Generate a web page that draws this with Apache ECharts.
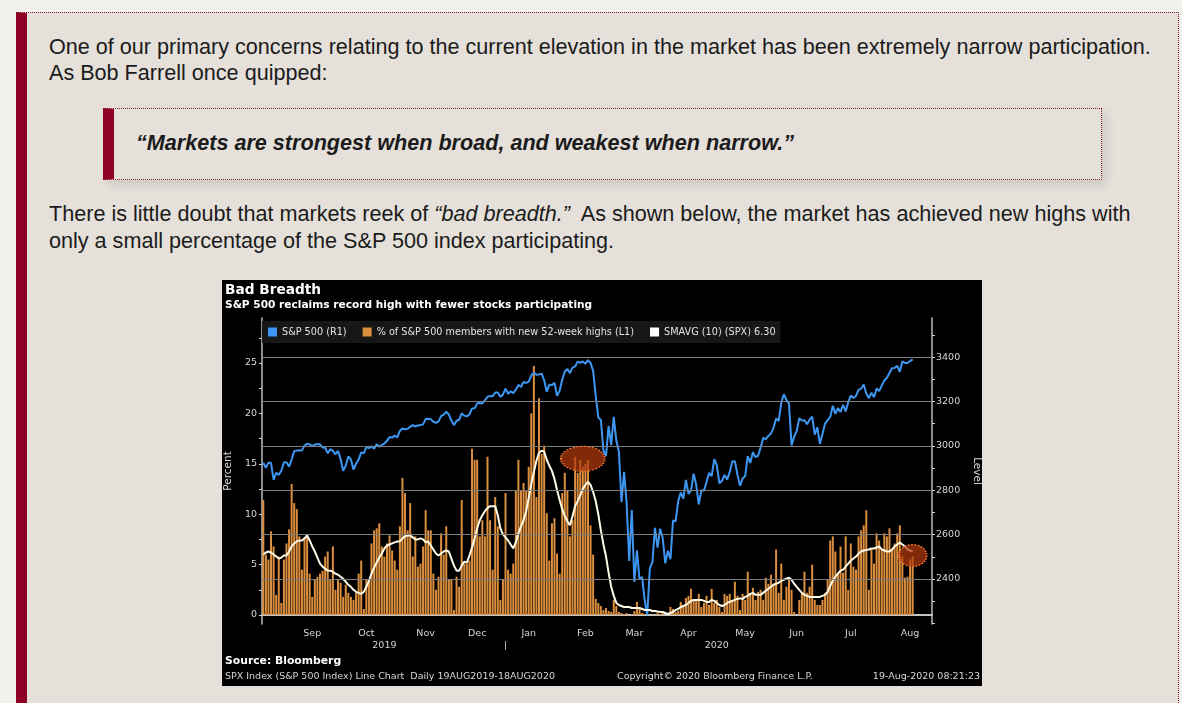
<!DOCTYPE html>
<html>
<head>
<meta charset="utf-8">
<title>Bad Breadth</title>
<script src="https://cdn.jsdelivr.net/npm/echarts@6.0.0/dist/echarts.min.js"></script>
<style>
html,body{margin:0;padding:0;background:#f3f1ee;}
body{width:1182px;height:703px;overflow:hidden;position:relative;font-family:"Liberation Sans",Arial,sans-serif;color:#1b1b1b;}
.box{position:absolute;left:16px;top:12px;width:1151px;height:740px;background:#e5e0da;border-left:11px solid #8e0024;border-top:1px dotted #8e1a30;border-right:1px dotted #8e1a30;}
.txt{position:absolute;left:49px;font-size:21.6px;white-space:nowrap;}
.quote{position:absolute;left:103px;top:108px;width:987px;height:70px;border-left:11px solid #8e0024;border-top:1px dotted #8e1a30;border-right:1px dotted #8e1a30;border-bottom:1px dotted #8e1a30;box-shadow:5px 5px 9px rgba(0,0,0,0.10);}
.quote span{position:absolute;left:22px;top:21px;font-size:21.6px;line-height:26px;font-weight:bold;font-style:italic;white-space:nowrap;}
#chart{position:absolute;left:222px;top:280px;width:760px;height:406px;background:#000;}
</style>
</head>
<body>
<div class="box"></div>
<div class="txt" style="top:34px;line-height:26px;">One of our primary concerns relating to the current elevation in the market has been extremely narrow participation.<br>As Bob Farrell once quipped:</div>
<div class="quote"><span>“Markets are strongest when broad, and weakest when narrow.”</span></div>
<div class="txt" style="top:200px;line-height:27px;">There is little doubt that markets reek of <i>“bad breadth.”</i>&nbsp; As shown below, the market has achieved new highs with<br>only a small percentage of the S&amp;P 500 index participating.</div>
<div id="chart"></div>
<script>
// trading calendar
const firstDay = '2019-08-19';
const axisEndDay = '2020-08-27';
const holidays = ['2019-09-02', '2019-11-28', '2019-12-25', '2020-01-01', '2020-01-20',
                  '2020-02-17', '2020-04-10', '2020-05-25', '2020-07-03'];
const monthNames = ['Jan', 'Feb', 'Mar', 'Apr', 'May', 'Jun', 'Jul', 'Aug', 'Sep', 'Oct', 'Nov', 'Dec'];
const yearLabelDays = ['2019-10-24', '2020-01-02', '2020-04-30'];
const yearLabelText = ['2019', '|', '2020'];

// S&P 500 close, Aug 19 2019 .. Aug 18 2020 (R1)
const spxClose = [
  2923.65,2900.51,2924.43,2922.95,2847.11,2878.38,2869.16,2887.94,2924.58,2926.46,
  2906.27,2937.78,2976.00,2978.71,2978.43,2979.39,3000.93,3009.57,3007.39,2997.96,3005.70,3006.73,3006.79,2992.07,2991.78,2966.60,2984.87,2977.62,2961.79,2976.74,
  2940.25,2887.61,2910.63,2952.01,2938.79,2893.06,2919.40,2938.13,2970.27,2966.15,2995.68,2989.69,2997.95,2986.20,3006.72,2995.99,3004.52,3010.29,3022.55,3039.42,3036.89,3046.77,3037.56,
  3066.91,3078.27,3074.62,3076.78,3085.18,3093.08,3087.01,3091.84,3094.04,3096.63,3120.46,3122.03,3120.18,3108.46,3103.54,3110.29,3133.64,3140.52,3153.63,3140.98,
  3113.87,3093.20,3112.76,3117.43,3145.91,3135.96,3132.52,3141.63,3168.57,3168.80,3191.45,3192.52,3191.14,3205.37,3221.22,3224.01,3223.38,3239.91,3240.02,3221.29,3230.78,
  3257.85,3234.85,3246.28,3237.18,3253.05,3274.70,3265.35,3288.13,3283.15,3289.29,3316.81,3329.62,3320.79,3321.75,3325.54,3295.47,3243.63,3276.24,3273.40,3283.66,3225.52,
  3248.92,3297.59,3334.69,3345.78,3327.71,3352.09,3357.75,3379.45,3373.94,3380.16,3370.29,3386.15,3373.23,3337.75,3225.89,3128.21,3116.39,2978.76,2954.22,
  3090.23,3003.37,3130.12,3023.94,2972.37,2746.56,2882.23,2741.38,2480.64,2711.02,2386.13,2529.19,2398.10,2409.39,2304.92,2237.40,2447.33,2475.56,2630.07,2541.47,2626.65,2584.59,
  2470.50,2526.90,2488.65,2663.68,2659.41,2749.98,2789.82,2761.63,2846.06,2783.36,2799.55,2874.56,2823.16,2736.56,2799.31,2797.80,2836.74,2878.48,2863.39,2939.51,2912.43,
  2830.71,2842.74,2868.44,2848.42,2881.19,2929.80,2930.32,2870.12,2820.00,2852.50,2863.70,2953.91,2922.94,2971.61,2948.51,2955.45,2991.77,3036.13,3029.73,3044.31,
  3055.73,3080.82,3122.87,3112.35,3193.93,3232.39,3207.18,3190.14,3002.10,3041.31,3066.59,3124.74,3113.49,3115.34,3097.74,3117.86,3131.29,3050.33,3083.76,3009.05,3053.24,3100.29,
  3115.86,3130.01,3179.72,3145.32,3169.94,3152.05,3185.04,3155.22,3197.52,3226.56,3215.57,3224.73,3251.84,3257.30,3276.02,3235.66,3215.63,3239.41,3218.44,3258.44,3246.22,3271.12,
  3294.61,3306.51,3327.77,3349.16,3351.28,3360.47,3333.69,3380.35,3373.43,3372.85,3381.99,3389.78
];

// % of S&P 500 members with new 52-week highs (L1)
const newHighsPct = [
  11.4,6.0,5.5,8.3,6.8,2.0,5.8,1.2,5.5,7.1,
  8.5,13.0,11.1,10.5,7.8,4.5,7.6,7.8,4.1,1.8,3.5,3.8,4.1,4.4,5.8,6.3,3.5,6.8,2.5,3.5,
  3.2,1.8,3.0,2.2,1.8,1.5,2.2,4.1,5.4,0.6,3.5,3.5,7.1,8.4,8.6,9.1,6.8,5.8,7.1,7.9,6.4,5.4,4.5,
  8.8,13.6,12.1,8.4,11.1,5.8,7.8,4.8,5.1,6.8,10.4,8.4,8.4,4.1,2.5,3.8,8.1,6.0,8.8,3.5,
  3.5,0.5,3.8,2.8,11.4,5.1,5.1,5.4,16.5,15.4,15.4,7.8,9.4,7.8,15.7,9.4,4.5,11.7,8.8,1.5,3.5,
  12.1,4.5,4.1,5.1,12.4,15.4,12.4,13.1,12.4,14.7,20.0,24.7,11.7,21.5,16.0,16.8,10.1,5.4,9.1,9.6,6.1,
  4.1,12.1,14.1,12.4,7.8,9.4,15.7,14.1,15.4,14.7,15.0,15.4,8.9,6.0,1.6,1.2,0.9,0.5,0.7,
  0.4,0.3,1.5,0.9,0.3,0.2,0.1,0.2,0.0,0.1,0.4,1.3,0.8,0.2,0.1,0.0,0.0,0.1,0.0,0.2,0.1,0.2,
  0.0,0.1,0.8,0.6,0.3,0.4,1.3,1.0,1.7,1.9,2.6,1.5,1.5,2.1,0.8,1.2,1.9,1.0,2.6,1.2,1.5,
  0.8,0.3,2.1,1.9,2.1,1.5,3.3,1.9,0.5,2.1,1.5,4.3,2.1,2.7,1.5,2.3,2.5,1.5,3.7,3.1,
  4.0,3.1,6.5,2.2,5.1,1.5,2.8,3.5,2.5,0.3,0.0,1.5,2.2,4.3,2.2,2.8,5.0,1.5,1.0,1.0,1.5,2.2,
  3.5,7.4,7.8,6.3,4.2,6.8,4.2,7.8,2.5,7.1,4.8,4.5,7.8,8.4,8.9,10.4,2.5,6.5,5.1,8.1,7.4,6.5,
  8.1,7.8,8.6,6.5,7.1,8.1,8.9,5.8,3.7,3.8,5.5,5.8
];

// SMAVG (10) of the new-highs percentage
const smavg10 = [
  6.0,6.2,6.3,6.2,6.0,5.8,5.6,5.7,5.9,5.9,
  6.3,6.8,7.1,7.3,7.4,7.4,7.6,7.9,7.4,6.8,6.3,5.7,5.1,4.8,4.6,4.4,4.4,4.3,4.1,4.0,
  3.8,3.6,3.3,3.0,2.8,2.5,2.3,2.2,2.1,2.3,2.8,3.4,4.1,4.7,5.2,5.7,6.1,6.6,6.9,7.0,7.1,7.2,7.3,
  7.3,7.6,7.8,7.9,7.9,7.7,7.5,7.5,7.6,7.5,7.2,7.3,6.9,6.5,6.1,5.9,6.1,6.3,6.4,6.3,
  5.6,4.9,4.4,4.4,4.9,5.3,5.2,5.9,6.7,7.6,8.6,9.4,9.9,10.3,10.6,10.8,10.8,10.8,9.9,8.6,8.0,
  7.7,7.4,7.0,6.6,7.2,8.1,8.8,9.4,10.3,11.6,13.0,14.2,15.3,16.1,16.3,16.2,15.4,14.8,14.3,13.5,12.4,
  11.4,10.5,9.8,9.3,8.9,9.8,10.8,11.3,11.9,12.5,12.9,13.2,12.9,12.2,11.3,10.0,8.4,7.0,5.8,
  4.2,2.8,1.9,1.2,1.0,0.9,0.8,0.8,0.8,0.7,0.7,0.7,0.7,0.6,0.5,0.5,0.5,0.4,0.4,0.35,0.3,0.3,
  0.2,0.1,0.2,0.3,0.5,0.6,0.8,0.9,1.0,1.2,1.4,1.5,1.5,1.5,1.5,1.4,1.3,1.3,1.5,1.4,1.2,
  1.0,0.9,1.0,1.2,1.3,1.4,1.5,1.6,1.65,1.6,1.8,1.9,2.1,2.2,2.0,2.0,2.0,2.2,2.4,2.6,
  2.8,3.0,3.1,3.2,3.4,3.5,3.6,3.7,3.5,3.1,2.8,2.5,2.2,2.0,1.9,1.8,1.8,1.8,1.8,1.8,1.9,2.0,
  2.3,2.9,3.4,3.8,4.1,4.4,4.5,4.8,5.1,5.4,5.6,5.8,6.1,6.3,6.4,6.45,6.5,6.6,6.6,6.7,6.8,6.5,
  6.4,6.3,6.3,6.5,6.8,7.0,7.2,7.0,6.8,6.5,6.4,6.3
];

// axis ticks and labels
const pctTicks = [0, 2.5, 5, 7.5, 10, 12.5, 15, 17.5, 20, 22.5, 25, 27.5];
const pctLabels = [0, 5, 10, 15, 20, 25];
const levelTicks = [2200, 2300, 2400, 2500, 2600, 2700, 2800, 2900, 3000, 3100, 3200, 3300, 3400, 3500];
const levelLabels = [2400, 2600, 2800, 3000, 3200, 3400];

// circled spots on the bars
const spotDays = ['2020-02-14', '2020-08-18'];
const spotPct = [15.5, 5.9];

const spxName = 'S&P 500 (R1)';
const pctName = '% of S&P 500 members with new 52-week highs (L1)';
const smaName = 'SMAVG (10) (SPX) 6.30';

function tradingDays(from, to) {
  let out = [];
  let d = new Date(from + 'T00:00:00Z');
  let end = new Date(to + 'T00:00:00Z');
  while (d <= end) {
    let wd = d.getUTCDay();
    let s = d.toISOString().slice(0, 10);
    if (wd !== 0 && wd !== 6 && holidays.indexOf(s) < 0) out.push(s);
    d = new Date(d.getTime() + 86400000);
  }
  return out;
}
let days = tradingDays(firstDay, axisEndDay);

let isMonthStart = (i) => i > 0 && days[i].slice(0, 7) !== days[i - 1].slice(0, 7);
let isMonthLabel = (i) => i > 0 && +days[i].slice(8, 10) >= 15 &&
  days[i - 1].slice(0, 7) === days[i].slice(0, 7) && +days[i - 1].slice(8, 10) < 15;

const font = 'DejaVu Sans';
const grey = '#d6d6d6';
let myChart = echarts.init(document.getElementById('chart'));

myChart.setOption({
  backgroundColor: '#000',
  animation: false,
  textStyle: { fontFamily: font },
  title: [
    { text: 'Bad Breadth', left: 3, top: 3, padding: 0,
      textStyle: { color: '#fff', fontSize: 13.7, fontWeight: 'bold', fontFamily: font } },
    { text: 'S&P 500 reclaims record high with fewer stocks participating', left: 3, top: 20, padding: 0,
      textStyle: { color: '#fff', fontSize: 10.6, fontWeight: 'bold', fontFamily: font } },
    { text: 'Source: Bloomberg', left: 3, top: 376, padding: 0,
      textStyle: { color: '#fff', fontSize: 10.8, fontWeight: 'bold', fontFamily: font } },
    { text: 'SPX Index (S&P 500 Index) Line Chart  Daily 19AUG2019-18AUG2020', left: 3, top: 392, padding: 0,
      textStyle: { color: grey, fontSize: 9.5, fontWeight: 'normal', fontFamily: font } },
    { text: 'Copyright© 2020 Bloomberg Finance L.P.', left: 395, top: 392, padding: 0,
      textStyle: { color: grey, fontSize: 9.5, fontWeight: 'normal', fontFamily: font } },
    { text: '19-Aug-2020 08:21:23', right: 2, top: 392, padding: 0,
      textStyle: { color: grey, fontSize: 9.5, fontWeight: 'normal', fontFamily: font } }
  ],
  legend: {
    left: 40, top: 41,
    backgroundColor: '#171717',
    padding: [6, 5, 6, 6],
    itemWidth: 9, itemHeight: 9, itemGap: 16,
    textStyle: { color: '#e2e2e2', fontSize: 9.7, fontFamily: font },
    data: [
      { name: spxName, icon: 'rect' },
      { name: pctName, icon: 'rect' },
      { name: smaName, icon: 'rect' }
    ]
  },
  grid: { left: 40, right: 50, top: 38, bottom: 62, containLabel: false, outerBoundsMode: 'none' },
  xAxis: [
    {
      type: 'category', data: days, boundaryGap: true,
      axisLine: { lineStyle: { color: '#c4c4c4', width: 2 } },
      axisTick: { interval: (i) => isMonthStart(i), length: 3, lineStyle: { color: '#bbb' } },
      axisLabel: {
        interval: (i) => isMonthLabel(i), margin: 5, color: grey, fontSize: 9.5,
        formatter: (v) => monthNames[+v.slice(5, 7) - 1]
      },
      splitLine: { show: false }
    },
    {
      type: 'category', data: days, boundaryGap: true, position: 'bottom', offset: 12,
      axisLine: { show: false },
      axisTick: { show: false },
      axisLabel: {
        interval: (i) => yearLabelDays.indexOf(days[i]) >= 0, margin: 5, color: grey, fontSize: 9.5,
        formatter: (v) => yearLabelText[yearLabelDays.indexOf(v)]
      },
      splitLine: { show: false }
    }
  ],
  yAxis: [
    {
      type: 'value', position: 'left', min: -0.89, max: 29.46,
      name: 'Percent', nameLocation: 'middle', nameGap: 21,
      nameTextStyle: { color: grey, fontSize: 10.5, fontFamily: font },
      axisLine: { show: true, lineStyle: { color: '#bdbdbd', width: 1.5 } },
      axisTick: { show: true, customValues: pctTicks, length: 3, lineStyle: { color: '#cfcfcf' } },
      axisLabel: { customValues: pctLabels, color: grey, fontSize: 9.5, margin: 5 },
      splitLine: { show: false }
    },
    {
      type: 'value', position: 'right', min: 2197, max: 3576,
      name: 'Level', nameLocation: 'middle', nameGap: 26, nameRotate: -90,
      nameTextStyle: { color: grey, fontSize: 10.5, fontFamily: font },
      axisLine: { show: true, lineStyle: { color: '#bdbdbd', width: 1.5 } },
      axisTick: { show: true, customValues: levelTicks, length: 3, lineStyle: { color: '#cfcfcf' } },
      axisLabel: { customValues: levelLabels, color: grey, fontSize: 9.5, margin: 4,
        formatter: (v) => String(v) },
      splitLine: { show: false }
    }
  ],
  series: [
    {
      name: 'grid', type: 'line', yAxisIndex: 1, data: [], silent: true, z: 1,
      markLine: {
        silent: true, symbol: 'none', label: { show: false },
        lineStyle: { color: '#7c7c7c', width: 1, type: 'solid' },
        data: levelLabels.map((v) => ({ yAxis: v }))
      }
    },
    {
      name: pctName, type: 'bar', yAxisIndex: 0, data: newHighsPct,
      barCategoryGap: '22%', z: 2,
      itemStyle: { color: '#db8e3d' },
      markPoint: {
        symbol: 'path://M0,10A10,10,0,1,1,20,10A10,10,0,1,1,0,10Z',
        label: { show: false },
        itemStyle: { color: 'rgba(178,58,14,0.72)', borderColor: '#ff7a36', borderWidth: 1.5, borderType: 'dotted' },
        data: [
          { coord: [spotDays[0], spotPct[0]], symbolSize: [44, 25] },
          { coord: [spotDays[1], spotPct[1]], symbolSize: [28, 22] }
        ]
      }
    },
    {
      name: smaName, type: 'line', yAxisIndex: 0, data: smavg10,
      symbol: 'none', z: 4,
      itemStyle: { color: '#ffffff' },
      lineStyle: { color: '#fffbe8', width: 2 }
    },
    {
      name: spxName, type: 'line', yAxisIndex: 1, data: spxClose,
      symbol: 'none', z: 3,
      itemStyle: { color: '#3d97f2' },
      lineStyle: { color: '#3d97f2', width: 2 }
    }
  ]
});
</script>
</body>
</html>
